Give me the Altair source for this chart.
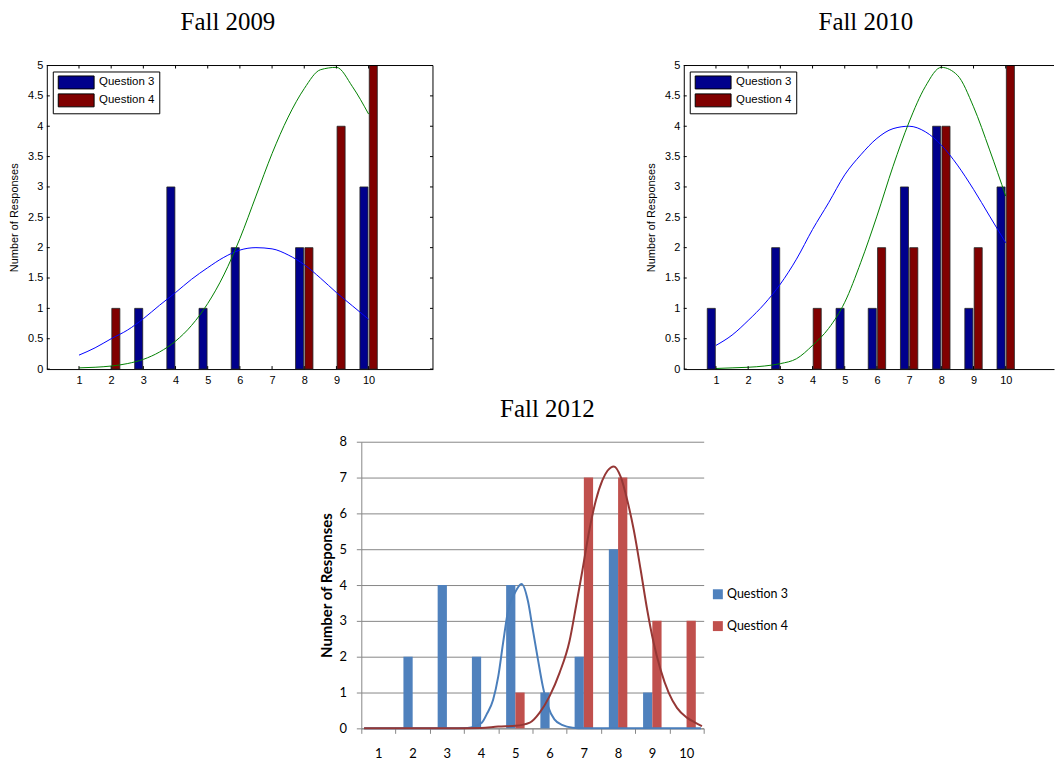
import altair as alt
import pandas as pd

scores = [1, 2, 3, 4, 5, 6, 7, 8, 9, 10]
series_names = ["Question 3", "Question 4"]

# bar counts
q3_2009 = [0, 0, 1, 3, 1, 2, 0, 2, 0, 3]
q4_2009 = [0, 1, 0, 0, 0, 0, 0, 2, 4, 5]
q3_2010 = [1, 0, 2, 0, 1, 1, 3, 4, 1, 3]
q4_2010 = [0, 0, 0, 1, 0, 2, 2, 4, 2, 5]
q3_2012 = [0, 2, 4, 2, 4, 1, 2, 5, 1, 0]
q4_2012 = [0, 0, 0, 0, 1, 0, 7, 7, 3, 3]

# fitted curves
fit_x = [1, 1.5, 2, 2.5, 3, 3.5, 4, 4.5, 5, 5.5, 6, 6.5, 7, 7.5, 8, 8.5, 9, 9.5, 10]
fit_q3_2009 = [0.23, 0.35, 0.50, 0.64, 0.83, 1.05, 1.26, 1.48, 1.67, 1.84, 1.96, 2.00, 1.98, 1.88, 1.72, 1.50, 1.26, 1.04, 0.82]
fit_q4_2009 = [0.02, 0.03, 0.05, 0.09, 0.16, 0.28, 0.46, 0.72, 1.08, 1.55, 2.15, 2.85, 3.55, 4.15, 4.62, 4.93, 4.97, 4.65, 4.20]
fit_q3_2010 = [0.39, 0.56, 0.80, 1.07, 1.40, 1.81, 2.30, 2.74, 3.20, 3.53, 3.80, 3.96, 4.00, 3.91, 3.69, 3.36, 2.96, 2.52, 2.08]
fit_q4_2010 = [0.01, 0.02, 0.03, 0.05, 0.09, 0.17, 0.39, 0.67, 1.10, 1.76, 2.52, 3.34, 4.07, 4.65, 4.97, 4.84, 4.32, 3.61, 2.85]

fit_x_q3_2012 = [0.58, 1, 2, 3, 3.6, 4.02, 4.16, 4.35, 4.5, 4.64, 4.79, 4.98, 5.18, 5.37, 5.51, 5.66, 5.8, 5.95, 6.14, 6.38, 6.67, 7, 8, 9, 10, 10.42]
fit_q3_2012 = [0, 0, 0, 0, 0.01, 0.16, 0.39, 0.8, 1.45, 2.38, 3.3, 3.77, 4.03, 3.54, 2.75, 1.92, 1.18, 0.62, 0.25, 0.09, 0.02, 0, 0, 0, 0, 0]
fit_x_q4_2012 = [0.58, 1, 2, 3, 4, 4.5, 5, 5.42, 5.71, 6.0, 6.29, 6.58, 6.77, 6.96, 7.16, 7.35, 7.54, 7.69, 7.88, 8.08, 8.27, 8.46, 8.66, 8.85, 9.04, 9.24, 9.48, 9.72, 10.01, 10.25, 10.45]
fit_q4_2012 = [0, 0, 0, 0, 0.01, 0.05, 0.07, 0.16, 0.44, 0.9, 1.55, 2.43, 3.4, 4.42, 5.53, 6.36, 6.92, 7.19, 7.31, 7.01, 6.36, 5.53, 4.42, 3.31, 2.38, 1.64, 0.99, 0.57, 0.3, 0.16, 0.06]

y_ticks_matlab = [0, 0.5, 1, 1.5, 2, 2.5, 3, 3.5, 4, 4.5, 5]
y_ticks_excel = [0, 1, 2, 3, 4, 5, 6, 7, 8]

MFONT = "Liberation Sans"
EFONT = "Lato"
TFONT = "Liberation Serif"
GRID = "#868686"
LEGEND_PATH = "M-2.77,-1L2.77,-1L2.77,1L-2.77,1Z"


def bar_frame(q3, q4):
    rows = []
    for s, vals in zip(series_names, [q3, q4]):
        for sc, v in zip(scores, vals):
            rows.append({"score": sc, "series": s, "n": v})
    return pd.DataFrame(rows)


def fit_frame(xs, ys):
    return pd.DataFrame({"x": xs, "y": ys})


def matlab_panel(title, dx, q3, q4, f3, f4, width, xmax, right_border):
    height = 305
    xs = alt.Scale(domain=[0, xmax], nice=False, zero=False)
    ys = alt.Scale(domain=[0, 5], nice=False)
    xaxis = alt.Axis(values=scores, format="d", labelFont=MFONT, labelFontSize=11,
                     labelColor="black", labelPadding=5, tickSize=0, domainColor="black",
                     grid=False, title=None, labelFlush=False)
    yaxis = alt.Axis(values=y_ticks_matlab, format="~g", labelFont=MFONT, labelFontSize=11,
                     labelColor="black", labelPadding=4, tickSize=0, domainColor="black",
                     grid=False, title="Number of Responses", titleFont=MFONT,
                     titleFontSize=11, titleFontWeight="normal", titleColor="black",
                     titlePadding=8)
    bars = alt.Chart(bar_frame(q3, q4)).transform_filter("datum.n > 0").transform_calculate(
        x0="datum.series == 'Question 3' ? datum.score - 0.27 : datum.score + 0.02",
        x1="datum.series == 'Question 3' ? datum.score - 0.02 : datum.score + 0.27",
    ).mark_rect(stroke="#222222", strokeWidth=0.8).encode(
        x=alt.X("x0:Q", scale=xs, axis=xaxis),
        x2="x1:Q",
        y=alt.Y("n:Q", scale=ys, axis=yaxis),
        y2=alt.datum(0),
        color=alt.Color("series:N",
                        scale=alt.Scale(domain=series_names, range=["#00008C", "#800000"]),
                        legend=alt.Legend(title=None, orient="none", legendX=6, legendY=6,
                                          fillColor="white", strokeColor="black", padding=4,
                                          symbolType=LEGEND_PATH, symbolSize=169,
                                          symbolOffset=12.5,
                                          symbolStrokeColor="black", symbolStrokeWidth=1,
                                          labelFont=MFONT, labelFontSize=11.5,
                                          labelColor="black", labelOffset=16,
                                          rowPadding=0)),
    )
    l3 = alt.Chart(fit_frame(fit_x, f3)).mark_line(color="#0000FF", strokeWidth=1,
                                                   interpolate="monotone").encode(
        x=alt.X("x:Q", scale=xs, axis=xaxis), y=alt.Y("y:Q", scale=ys, axis=yaxis))
    l4 = alt.Chart(fit_frame(fit_x, f4)).mark_line(color="#008000", strokeWidth=1,
                                                   interpolate="monotone").encode(
        x=alt.X("x:Q", scale=xs, axis=xaxis), y=alt.Y("y:Q", scale=ys, axis=yaxis))
    one = pd.DataFrame({"a": [0]})
    xt = pd.DataFrame({"t": scores})
    yt = pd.DataFrame({"t": y_ticks_matlab})
    top = alt.Chart(one).mark_rule(color="black", strokeWidth=1).encode(y=alt.value(0))
    xt_top = alt.Chart(xt).mark_rule(color="black", strokeWidth=1).encode(
        x=alt.X("t:Q", scale=xs, axis=xaxis), y=alt.value(0), y2=alt.value(3))
    xt_bot = alt.Chart(xt).mark_rule(color="black", strokeWidth=1).encode(
        x=alt.X("t:Q", scale=xs, axis=xaxis), y=alt.value(height), y2=alt.value(height - 3))
    yt_left = alt.Chart(yt).mark_rule(color="black", strokeWidth=1).encode(
        y=alt.Y("t:Q", scale=ys, axis=yaxis), x=alt.value(0), x2=alt.value(3))
    layers = [bars, l3, l4, top, xt_top, xt_bot, yt_left]
    if right_border:
        layers.append(alt.Chart(one).mark_rule(color="black", strokeWidth=1).encode(
            x=alt.value(width)))
        layers.append(alt.Chart(yt).mark_rule(color="black", strokeWidth=1).encode(
            y=alt.Y("t:Q", scale=ys, axis=yaxis), x=alt.value(width - 3),
            x2=alt.value(width)))
    return alt.layer(*layers).properties(
        width=width, height=height,
        title=alt.TitleParams(title, font=TFONT, fontSize=25, fontWeight="normal",
                              color="black", anchor="middle", frame="group", dx=dx,
                              offset=5, baseline="alphabetic"))


def excel_panel():
    xs = alt.Scale(domain=[0.5, 10.5], nice=False, zero=False)
    ys = alt.Scale(domain=[0, 8], nice=False)
    xvals = [s - 0.5 for s in scores] + [scores[-1] + 0.5]
    xaxis = alt.Axis(values=xvals,
                     labelExpr="datum.value < 10 ? format(datum.value + 0.5, 'd') : ''",
                     labelOffset=17, tickSize=5, tickColor=GRID, domainColor=GRID,
                     labelFont=EFONT, labelFontSize=13, labelColor="black", labelPadding=14,
                     grid=False, title=None, labelFlush=False)
    yaxis = alt.Axis(values=y_ticks_excel, format="d", tickSize=5, tickColor=GRID,
                     domainColor=GRID, grid=True, gridColor=GRID, labelFont=EFONT,
                     labelFontSize=13, labelColor="black", labelPadding=10,
                     title="Number of Responses", titleFont=EFONT, titleFontSize=15,
                     titleFontWeight="bold", titleColor="black", titlePadding=4)
    bars = alt.Chart(bar_frame(q3_2012, q4_2012)).transform_filter("datum.n > 0").transform_calculate(
        x0="datum.series == 'Question 3' ? datum.score - 0.27 : datum.score",
        x1="datum.series == 'Question 3' ? datum.score : datum.score + 0.27",
    ).mark_rect().encode(
        x=alt.X("x0:Q", scale=xs, axis=xaxis),
        x2="x1:Q",
        y=alt.Y("n:Q", scale=ys, axis=yaxis),
        y2=alt.datum(0),
        color=alt.Color("series:N",
                        scale=alt.Scale(domain=series_names, range=["#4F81BD", "#C0504D"]),
                        legend=alt.Legend(title=None, orient="none", legendX=352, legendY=147,
                                          symbolType="square", symbolSize=100,
                                          symbolStrokeWidth=0, labelFont=EFONT,
                                          labelFontSize=12.5, labelColor="black",
                                          labelOffset=3, rowPadding=19, padding=0)),
    )
    l3 = alt.Chart(fit_frame(fit_x_q3_2012, fit_q3_2012)).mark_line(
        color="#4A7EBB", strokeWidth=2, interpolate="monotone").encode(
        x=alt.X("x:Q", scale=xs, axis=xaxis), y=alt.Y("y:Q", scale=ys, axis=yaxis))
    l4 = alt.Chart(fit_frame(fit_x_q4_2012, fit_q4_2012)).mark_line(
        color="#953735", strokeWidth=2, interpolate="monotone").encode(
        x=alt.X("x:Q", scale=xs, axis=xaxis), y=alt.Y("y:Q", scale=ys, axis=yaxis))
    return alt.layer(bars, l3, l4).properties(
        width=344, height=288,
        title=alt.TitleParams("Fall 2012", font=TFONT, fontSize=25, fontWeight="normal",
                              color="black", anchor="middle", frame="group", dx=15,
                              offset=-6, baseline="alphabetic"))


p1 = matlab_panel("Fall 2009", -12, q3_2009, q4_2009, fit_q3_2009, fit_q4_2009, 388, 12, True)
p2 = matlab_panel("Fall 2010", -3, q3_2010, q4_2010, fit_q3_2010, fit_q4_2010, 372, 11.5, False)
p3 = excel_panel()

spacer = alt.Chart(pd.DataFrame({"a": [0]})).mark_point(opacity=0).encode(
    x=alt.value(0), y=alt.value(0)).properties(width=274, height=1)

top_row = alt.hconcat(p1, p2, spacing=212).resolve_scale(color="independent")
bottom_row = alt.hconcat(spacer, p3, spacing=0).resolve_scale(color="independent")

chart = alt.vconcat(top_row, bottom_row, spacing=12).resolve_scale(
    color="independent").properties(
    padding={"left": 0, "top": 0, "right": 0, "bottom": 0}
).configure_view(strokeWidth=0)

chart.save("out.html", embed_options={"renderer": "svg", "actions": False})
